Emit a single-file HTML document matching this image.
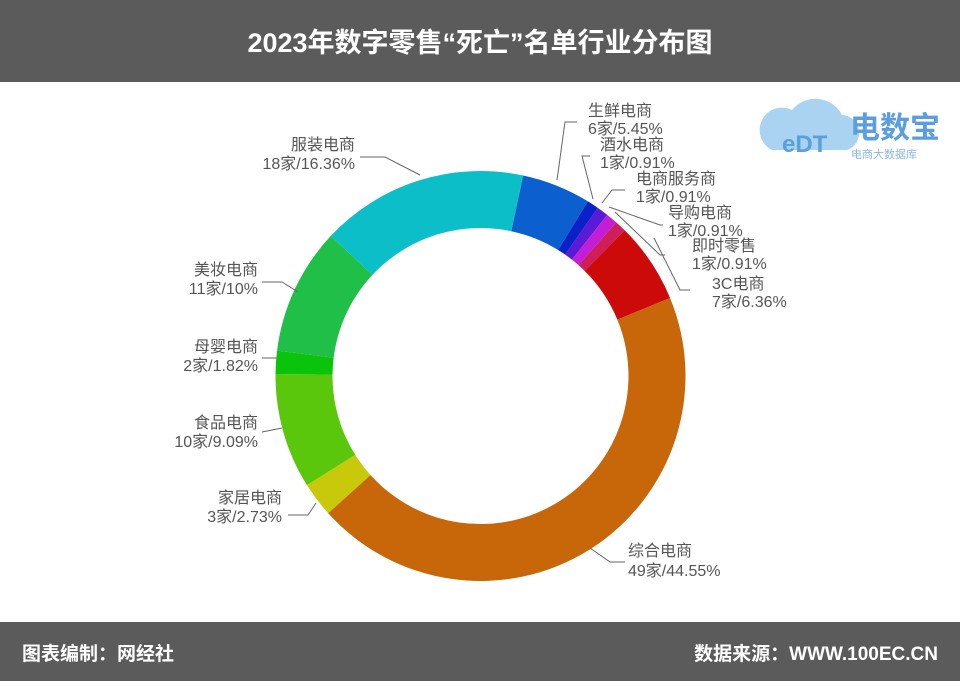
<!DOCTYPE html>
<html><head><meta charset="utf-8"><style>
html,body{margin:0;padding:0;background:#fff}
body{width:960px;height:681px;overflow:hidden;font-family:"Liberation Sans","Noto Sans CJK SC",sans-serif}
</style></head><body>
<svg id="s" width="960" height="681" xmlns="http://www.w3.org/2000/svg" font-family="Liberation Sans, Noto Sans CJK SC, sans-serif">
<rect x="0" y="0" width="960" height="82" fill="#5b5b5b"/>
<text x="480" y="52" text-anchor="middle" fill="#fff" font-size="27" font-weight="bold">2023年数字零售“死亡”名单行业分布图</text>
<rect x="0" y="622" width="960" height="59" fill="#5b5b5b"/>
<text x="22" y="660" fill="#fff" font-size="19" font-weight="bold">图表编制：网经社</text>
<text x="938" y="660" text-anchor="end" fill="#fff" font-size="19" font-weight="bold">数据来源：WWW.100EC.CN</text>
<g id="ring"></g>
<g fill="none" stroke="#666" stroke-width="1">
<polyline points="420,175 385,157 360,157"/>
<polyline points="298,292 282,282 262,282"/>
<polyline points="277,358 262,358"/>
<polyline points="282,428 262,432"/>
<polyline points="316,503 308,515 288,515"/>
<polyline points="590,548 610,562 625,562"/>
<polyline points="557,180 565,122 577,122"/>
<polyline points="593,199 582,156 590,156"/>
<polyline points="602,203 612,190 625,190"/>
<polyline points="609,207 660,225 663,225"/>
<polyline points="615,212 660,255 665,255"/>
<polyline points="654,238 680,290 690,290"/>
</g>
<g fill="#555" font-size="16">
<text x="355" y="150" text-anchor="end">服装电商</text><text x="355" y="169" text-anchor="end">18家/16.36%</text>
<text x="258" y="275" text-anchor="end">美妆电商</text><text x="258" y="294" text-anchor="end">11家/10%</text>
<text x="258" y="352" text-anchor="end">母婴电商</text><text x="258" y="371" text-anchor="end">2家/1.82%</text>
<text x="258" y="428" text-anchor="end">食品电商</text><text x="258" y="447" text-anchor="end">10家/9.09%</text>
<text x="282" y="503" text-anchor="end">家居电商</text><text x="282" y="522" text-anchor="end">3家/2.73%</text>
<text x="628" y="556">综合电商</text><text x="628" y="576">49家/44.55%</text>
<text x="588" y="116">生鲜电商</text><text x="588" y="134">6家/5.45%</text>
<text x="600" y="150">酒水电商</text><text x="600" y="168">1家/0.91%</text>
<text x="636" y="184">电商服务商</text><text x="636" y="202">1家/0.91%</text>
<text x="668" y="218">导购电商</text><text x="668" y="236">1家/0.91%</text>
<text x="692" y="251">即时零售</text><text x="692" y="269">1家/0.91%</text>
<text x="712" y="289">3C电商</text><text x="712" y="307">7家/6.36%</text>
</g>
<g>
<path d="M772,150 a22,22 0 0 1 20,-40 a30,30 0 0 1 50,5 a18,18 0 0 1 5,35 z" fill="#8ec3ec" opacity="0.75"/>
<text x="782" y="152" fill="#5aa0dc" font-size="24" font-weight="bold">eDT</text>
<text x="850" y="138" fill="#5a9ee0" font-size="30" font-weight="bold">电数宝</text>
<text x="851" y="158" fill="#8ab8e4" font-size="11">电商大数据库</text>
</g>
</svg>
<script>
var data=[[5.45,"#0b5fcf"],[0.91,"#0a20c8"],[0.91,"#5a1ad6"],[0.91,"#c21ed8"],[0.91,"#cf1f5a"],[6.36,"#cc0a0a"],[44.55,"#c8670a"],[2.73,"#c9c90c"],[9.09,"#5ac70c"],[1.82,"#0ac40c"],[10,"#20bf48"],[16.36,"#0cbec8"]];
var cx=480.5,cy=376,R=205,r=148,a=12,g=document.getElementById("ring"),h="";
function p(rad,deg){var t=(deg-90)*Math.PI/180;return (cx+rad*Math.cos(t)).toFixed(2)+","+(cy+rad*Math.sin(t)).toFixed(2);}
data.forEach(function(d){var b=a+d[0]*3.6,l=(b-a)>180?1:0;
h+='<path fill="'+d[1]+'" d="M'+p(R,a)+' A'+R+','+R+' 0 '+l+' 1 '+p(R,b)+' L'+p(r,b)+' A'+r+','+r+' 0 '+l+' 0 '+p(r,a)+' Z"/>';a=b;});
g.innerHTML=h;
</script>
</body></html>
